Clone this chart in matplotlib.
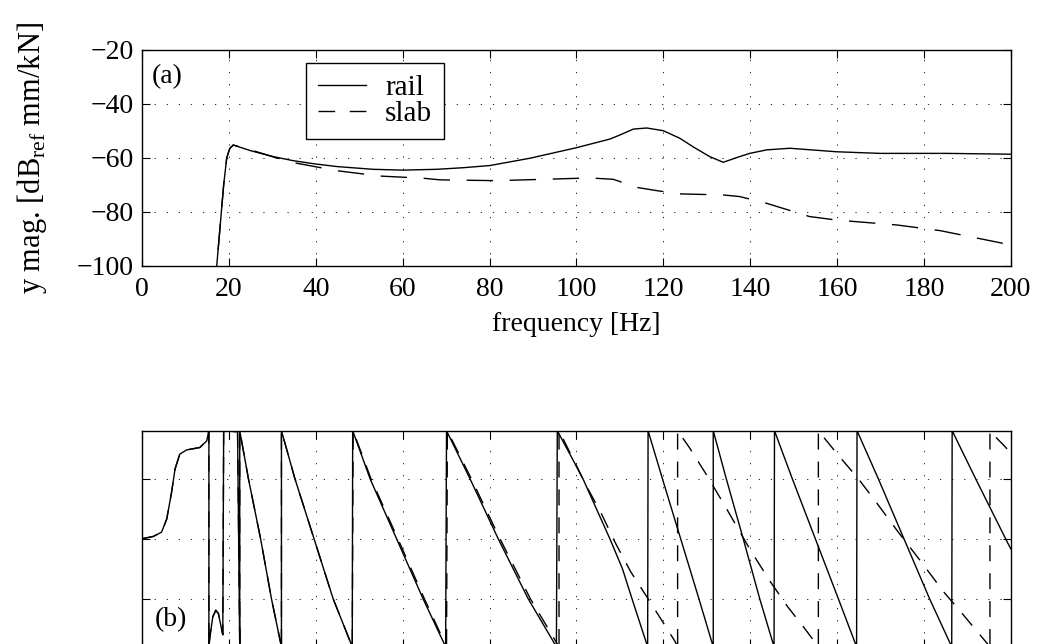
import numpy as np
import matplotlib
matplotlib.use("Agg")
import matplotlib.pyplot as plt
from matplotlib.lines import Line2D

plt.rcParams['font.family'] = ['Liberation Serif', 'DejaVu Serif']
plt.rcParams['mathtext.fontset'] = 'custom'
plt.rcParams['mathtext.rm'] = 'Liberation Serif'
plt.rcParams['font.size'] = 20

# magnitude (a)
rail_f = [16.9, 17.2, 18.0, 18.8, 19.5, 20.2, 21.0, 25.0, 30.2, 34.8, 39.8, 45.0, 53.2, 60.0, 67.8,
          74.0, 80.1, 89.3, 100.0, 107.7, 110.0, 113.1, 116.2, 120.0, 123.8, 127.0, 130.7,
          133.8, 137.0, 139.9, 143.8, 149.1, 159.9, 169.9, 185.2, 200.0]
rail_mag = [-110, -100, -85, -70, -60, -56.5, -55.2, -57.3, -59.5, -61.0, -62.2, -63.2, -64.2, -64.5, -64.2,
            -63.6, -62.8, -60.1, -56.2, -53.0, -51.5, -49.3, -48.9, -49.9, -52.7, -56.0, -59.5,
            -61.6, -59.8, -58.3, -57.0, -56.4, -57.7, -58.3, -58.3, -58.6]
slab_f = [16.9, 17.2, 18.0, 18.8, 19.5, 20.2, 21.0, 25.0, 30.2, 34.8, 44.8, 54.8, 64.7, 68.6, 81.6,
          94.7, 103.1, 108.5, 113.9, 118.5, 123.8, 133.8, 137.6, 143.8, 153.7, 159.9, 173.7,
          183.7, 200.0]
slab_mag = [-110, -100, -85, -70, -60, -56.5, -55.2, -57.0, -59.6, -61.7, -64.7, -66.7, -67.5, -68.1, -68.4,
            -67.8, -67.4, -67.9, -70.9, -72.1, -73.3, -73.7, -74.3, -76.8, -81.7, -83.0, -84.8,
            -86.9, -92.2]

# phase (b), wrapped to +-180
rail_pf = [0, 2.6, 4.5, 5.7, 6.8, 7.6, 8.7, 10.3, 13.3, 14.9, 15.4, 15.4, 15.6, 16.3, 17.0, 17.6, 18.3,
           18.6, 18.8, 22.0, 22.5, 22.5, 24.5, 27.3, 29.8, 32.1, 32.1, 35.2, 39.6, 44.0, 48.4,
           48.5, 52.5, 58.6, 64.7, 69.9, 70.1, 75.5, 82.0, 88.9, 95.4, 95.6, 98.5, 101.5, 107.7,
           110.6, 112.8, 116.4, 116.5, 119.8, 124.0, 128.2, 131.5, 131.5, 134.5, 138.4, 142.2,
           145.5, 145.6, 148.0, 149.7, 155.0, 160.3, 164.5, 164.6, 169.5, 175.4, 181.3, 186.4,
           186.5, 191.9, 198.8, 200.0]
rail_ph = [0, 3.8, 11, 33, 77, 116, 141, 148, 152, 163, 180, -180, -165, -130, -119, -125, -150,
           -160, 180, 178, -180, 180, 100, 0, -100, -180, 180, 100, 0, -100, -180,
           180, 100, 0, -100, -180, 180, 100, 0, -100, -180, 180, 141, 100, 0,
           -50, -100, -180, 180, 100, 0, -100, -180, 180, 100, 0, -100,
           -180, 180, 133, 100, 0, -100, -180, 180, 100, 0, -100, -180,
           180, 100, 0, -17]
slab_pf = [0, 2.6, 4.5, 5.7, 6.8, 7.6, 8.7, 10.3, 13.3, 14.9, 15.4, 15.4, 15.6, 16.3, 17.0, 17.6, 18.3,
           18.6, 18.8, 22.0, 22.5, 22.5, 24.5, 27.3, 29.8, 32.1, 32.1, 35.2, 39.6, 44.0, 48.4,
           48.6, 52.7, 58.9, 65.0, 70.1, 70.3, 75.8, 82.4, 89.4, 96.0, 96.0, 100.0, 102.3, 105.8,
           108.9, 112.5, 116.5, 118.6, 122.7, 123.3, 123.3, 126.0, 130.0, 134.4, 139.9, 144.4,
           148.6, 152.6, 155.7, 155.7, 160.3, 164.9, 169.3, 174.1, 179.1, 184.6, 189.2, 192.3,
           195.2, 195.2, 196.3, 198.6, 200.0]
slab_ph = [0, 3.8, 11, 33, 77, 116, 141, 148, 152, 163, 180, -180, -165, -130, -119, -125, -150,
           -160, 180, 178, -180, 180, 100, 0, -100, -180, 180, 100, 0, -100, -180,
           180, 100, 0, -100, -180, 180, 100, 0, -100, -180, 180, 122, 88, 41,
           -6, -55, -100, -124, -171, -180, 180, 152, 106, 52, -17, -69,
           -113, -150, -180, 180, 139, 100, 58, 11, -36, -89, -128, -155,
           -180, 180, 171, 154, 142]

fig = plt.figure(figsize=(10.38, 6.44), dpi=100)
ax1 = fig.add_axes([0.1368, 0.587, 0.837, 0.3354])
ax2 = fig.add_axes([0.1368, -0.0043, 0.837, 0.3355])

ax1.plot(rail_f, rail_mag, color='black', lw=1.0)
ax1.plot(slab_f, slab_mag, color='black', lw=1.0, dashes=(19, 12))
ax1.set_xlim(0, 200)
ax1.set_ylim(-100, -20)
ax1.set_xticks(np.arange(0, 201, 20))
ax1.set_yticks(np.arange(-100, -19, 20))
ax1.set_xlabel('frequency [Hz]', labelpad=7)
ax1.set_ylabel(r'y mag. [dB$_{\mathrm{ref}}$ mm/kN]', fontsize=22)
ax1.yaxis.set_label_coords(-0.107, 0.5)
ax1.text(0.0115, 0.935, '(a)', transform=ax1.transAxes, ha='left', va='top')
handles = [Line2D([], [], color='black', lw=1.0),
           Line2D([], [], color='black', lw=1.0, dashes=(12, 10.5))]
leg = ax1.legend(handles, ['rail', 'slab'], loc='upper left', bbox_to_anchor=(0.189, 0.94),
                 borderaxespad=0, fancybox=False, edgecolor='black', framealpha=1, fontsize=21,
                 handlelength=1.65, handletextpad=0.65, borderpad=0.4, labelspacing=0.0)
leg.get_frame().set_linewidth(1.0)

ax2.plot(rail_pf, rail_ph, color='black', lw=1.0)
ax2.plot(slab_pf, slab_ph, color='black', lw=1.0, dashes=(11.5, 8.6))
ax2.set_xlim(0, 200)
ax2.set_ylim(-180, 180)
ax2.set_xticks(np.arange(0, 201, 20))
ax2.set_yticks([-100, 0, 100])
ax2.set_xticklabels([])
ax2.set_yticklabels([])
ax2.text(0.015, 0.068, '(b)', transform=ax2.transAxes, ha='left', va='bottom')

for ax in (ax1, ax2):
    ax.grid(True, color='black', linestyle=(0, (1.5, 13)), linewidth=0.6)
    ax.tick_params(direction='in', length=6, width=0.8, top=True, right=True, pad=8)
    for sp in ax.spines.values():
        sp.set_linewidth(1.0)
ax1.tick_params(axis='y', pad=6)

fig.savefig('out.png', dpi=100)
